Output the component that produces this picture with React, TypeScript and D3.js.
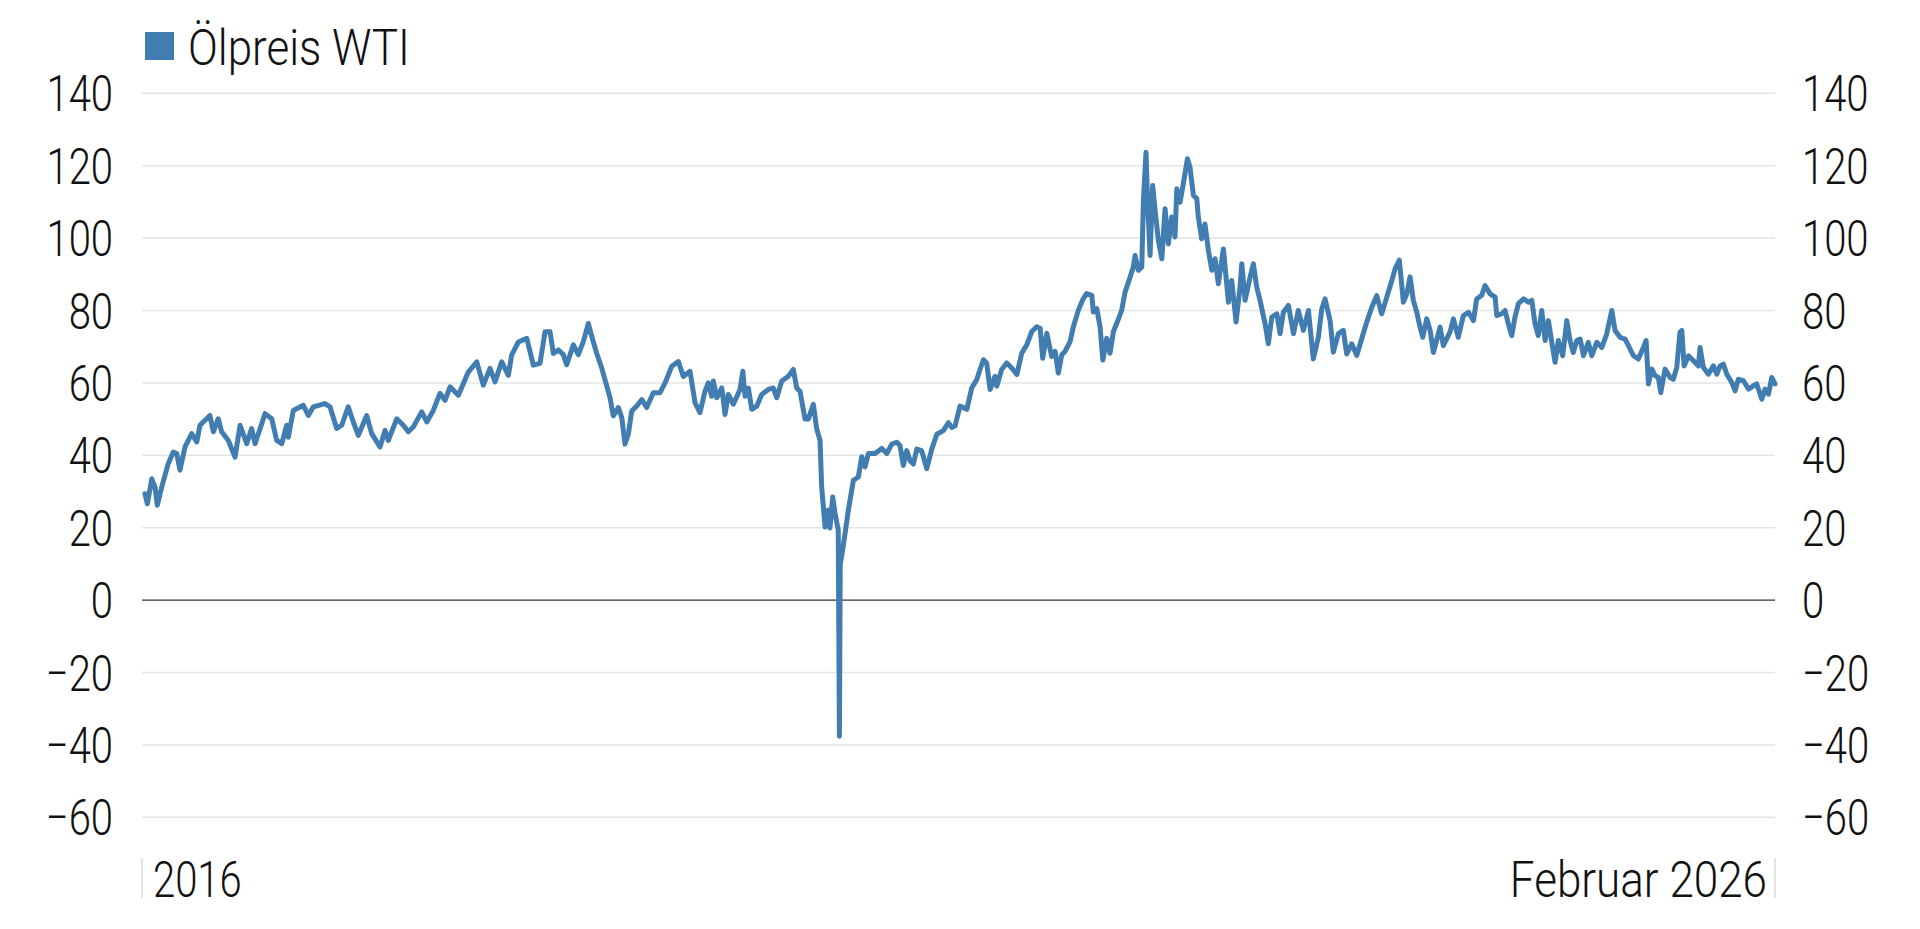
import React from "react";
import * as d3 from "d3";

// Decimal-year timestamps and WTI prices (USD/barrel)
const times: number[] = [
  2016.038, 2016.053, 2016.08, 2016.1, 2016.114, 2016.141, 2016.181, 2016.212, 2016.233, 2016.253,
  2016.284, 2016.325, 2016.356, 2016.376, 2016.407, 2016.437, 2016.458, 2016.488, 2016.509, 2016.55,
  2016.591, 2016.622, 2016.663, 2016.693, 2016.714, 2016.775, 2016.816, 2016.847, 2016.878, 2016.908,
  2016.918, 2016.949, 2017.01, 2017.041, 2017.072, 2017.143, 2017.174, 2017.215, 2017.246, 2017.286,
  2017.317, 2017.348, 2017.399, 2017.43, 2017.481, 2017.512, 2017.532, 2017.584, 2017.624, 2017.655,
  2017.685, 2017.737, 2017.768, 2017.808, 2017.849, 2017.88, 2017.911, 2017.962, 2018.023, 2018.075,
  2018.115, 2018.156, 2018.187, 2018.228, 2018.269, 2018.289, 2018.33, 2018.382, 2018.422, 2018.463,
  2018.494, 2018.525, 2018.545, 2018.576, 2018.606, 2018.627, 2018.668, 2018.698, 2018.729, 2018.76,
  2018.781, 2018.811, 2018.842, 2018.873, 2018.893, 2018.913, 2018.944, 2018.965, 2018.985, 2019.005,
  2019.026, 2019.057, 2019.088, 2019.118, 2019.159, 2019.2, 2019.231, 2019.272, 2019.312, 2019.343,
  2019.384, 2019.415, 2019.445, 2019.476, 2019.496, 2019.517, 2019.527, 2019.548, 2019.579, 2019.599,
  2019.619, 2019.65, 2019.691, 2019.708, 2019.722, 2019.742, 2019.763, 2019.794, 2019.824, 2019.865,
  2019.895, 2019.916, 2019.947, 2019.987, 2020.018, 2020.039, 2020.059, 2020.09, 2020.11, 2020.141,
  2020.162, 2020.182, 2020.192, 2020.213, 2020.233, 2020.243, 2020.26, 2020.274, 2020.294, 2020.301,
  2020.306, 2020.318, 2020.336, 2020.356, 2020.387, 2020.417, 2020.438, 2020.458, 2020.479, 2020.52,
  2020.561, 2020.592, 2020.622, 2020.653, 2020.673, 2020.693, 2020.714, 2020.735, 2020.755, 2020.776,
  2020.806, 2020.837, 2020.868, 2020.899, 2020.939, 2020.97, 2020.991, 2021.011, 2021.041, 2021.083,
  2021.113, 2021.144, 2021.164, 2021.185, 2021.205, 2021.226, 2021.256, 2021.267, 2021.297, 2021.328,
  2021.359, 2021.39, 2021.42, 2021.451, 2021.482, 2021.512, 2021.533, 2021.549, 2021.574, 2021.604,
  2021.625, 2021.645, 2021.666, 2021.686, 2021.717, 2021.737, 2021.768, 2021.798, 2021.819, 2021.85,
  2021.86, 2021.881, 2021.901, 2021.918, 2021.942, 2021.962, 2021.983, 2022.003, 2022.034, 2022.054,
  2022.085, 2022.105, 2022.116, 2022.136, 2022.157, 2022.167, 2022.183, 2022.194, 2022.208, 2022.224,
  2022.239, 2022.259, 2022.28, 2022.3, 2022.32, 2022.341, 2022.361, 2022.372, 2022.392, 2022.412,
  2022.437, 2022.453, 2022.474, 2022.495, 2022.504, 2022.525, 2022.545, 2022.566, 2022.587, 2022.607,
  2022.627, 2022.658, 2022.689, 2022.709, 2022.736, 2022.76, 2022.771, 2022.791, 2022.822, 2022.842,
  2022.863, 2022.883, 2022.914, 2022.934, 2022.955, 2022.986, 2023.006, 2023.026, 2023.057, 2023.088,
  2023.118, 2023.149, 2023.18, 2023.21, 2023.241, 2023.262, 2023.282, 2023.313, 2023.333, 2023.364,
  2023.394, 2023.415, 2023.446, 2023.477, 2023.507, 2023.538, 2023.569, 2023.599, 2023.63, 2023.661,
  2023.692, 2023.712, 2023.738, 2023.763, 2023.784, 2023.804, 2023.824, 2023.845, 2023.865, 2023.882,
  2023.906, 2023.927, 2023.947, 2023.988, 2024.008, 2024.049, 2024.07, 2024.1, 2024.131, 2024.162,
  2024.193, 2024.213, 2024.244, 2024.264, 2024.295, 2024.326, 2024.336, 2024.367, 2024.387, 2024.407,
  2024.428, 2024.448, 2024.469, 2024.5, 2024.53, 2024.551, 2024.571, 2024.591, 2024.612, 2024.633,
  2024.653, 2024.674, 2024.694, 2024.714, 2024.741, 2024.766, 2024.786, 2024.806, 2024.827, 2024.848,
  2024.868, 2024.898, 2024.919, 2024.95, 2024.981, 2025.011, 2025.042, 2025.062, 2025.093, 2025.124,
  2025.144, 2025.175, 2025.205, 2025.236, 2025.253, 2025.267, 2025.288, 2025.308, 2025.328, 2025.343,
  2025.369, 2025.4, 2025.42, 2025.441, 2025.461, 2025.472, 2025.486, 2025.513, 2025.543, 2025.574,
  2025.584, 2025.604, 2025.635, 2025.666, 2025.687, 2025.707, 2025.727, 2025.748, 2025.779, 2025.799,
  2025.819, 2025.85, 2025.881, 2025.911, 2025.932, 2025.963, 2025.983, 2026.004, 2026.024, 2026.044,
];

const prices: number[] = [
  29.4, 26.6, 33.5, 31.2, 26.2, 31.2, 37.7, 40.9, 40.5, 35.9,
  42.3, 46, 43.7, 48.3, 49.7, 51, 46.5, 50.1, 46.5, 44.1,
  39.5, 48.3, 43.2, 47.4, 43.2, 51.5, 50.1, 44.1, 43.2, 48.3,
  45, 52.4, 53.8, 51, 53.4, 54.3, 53.4, 47.4, 48.3, 53.4,
  49.2, 45.5, 51, 46, 42.3, 46.9, 44.1, 50.1, 48.3, 46.5,
  47.8, 52, 49.2, 52.4, 57.1, 55.2, 58.9, 56.6, 63, 65.8,
  59.4, 64, 60.3, 65.8, 62.1, 67.7, 71.3, 72.3, 64.9, 65.4,
  74.1, 74.1, 68.1, 69.1, 67.8, 65, 70.5, 67.8, 71.4, 76.4,
  72.8, 68.2, 64.1, 59.1, 55.9, 50.9, 53.2, 50.4, 43.1, 45.8,
  52.2, 53.6, 55.4, 53.2, 57.3, 57.3, 60, 64.6, 65.9, 61.8,
  63.2, 54.5, 51.8, 57.7, 60, 56.3, 60.5, 55.9, 58.6, 51.3,
  56.8, 54.1, 58.2, 63.2, 56.3, 58.6, 52.7, 53.6, 56.8, 58.2,
  58.6, 55.9, 60.5, 61.8, 63.7, 58.6, 57.7, 50, 50, 54.1,
  47.2, 44.2, 31.3, 20.2, 24.9, 19.9, 28.5, 24, 19.3, -37.6,
  10, 13, 18.5, 24.9, 33.1, 34, 39.6, 36.8, 40.5, 40.5,
  41.9, 40.5, 43.1, 43.6, 42.7, 37.2, 41.3, 38.5, 37.6, 41.7,
  41.3, 36.3, 41.7, 45.8, 46.8, 49, 47.7, 48.1, 53.6, 52.7,
  58.6, 60.9, 63.7, 66.4, 65.5, 58.2, 61.8, 59.1, 63.7, 65.5,
  64.1, 62.3, 68.2, 70.5, 74.2, 75.5, 75.1, 66.8, 73.7, 67.3,
  68.7, 62.7, 67.8, 68.7, 71.4, 75.5, 80.1, 83.3, 84.7, 84.2,
  79.6, 80.5, 75.5, 66.3, 72.3, 68.2, 74.2, 76.4, 80.1, 85,
  89.2, 92, 95.2, 91.1, 92, 110.4, 123.7, 108.6, 95.2, 114.5,
  107.6, 99.3, 94.3, 108.1, 98.4, 105.8, 100.3, 113.6, 109.9, 115,
  121.9, 119.6, 111.8, 110.9, 105.8, 99.8, 103.9, 96.6, 91.1, 94.3,
  87.4, 97, 82.3, 88.3, 76.8, 86.4, 92.9, 82.8, 89.2, 92.9,
  86.4, 82.8, 76.3, 70.8, 78.2, 79.1, 73.6, 79.5, 81.4, 73.6,
  80, 74.5, 80, 66.6, 72.6, 80.5, 83.2, 77.2, 68.5, 73.6,
  74.5, 68, 70.8, 67.6, 72.2, 76.8, 80.9, 84.1, 79.1, 83.7,
  88.3, 91.5, 93.9, 82.3, 84.6, 89.3, 82.8, 79.5, 75.4, 72.6,
  77.7, 74.5, 68.4, 75.4, 70.3, 74, 77.7, 72.6, 78.6, 79.5,
  77.2, 83.2, 84.2, 86.9, 84.6, 83.7, 78.6, 79.1, 80, 76.3,
  73.1, 78.2, 81.9, 83.2, 82.3, 82.8, 76.3, 73.1, 80, 71.7,
  77.2, 71.2, 65.7, 71.7, 67.5, 77.2, 71.7, 68.4, 71.7, 72.1,
  67.5, 71.2, 67.5, 71.2, 69.8, 73.5, 80, 74.5, 72.6, 72.1,
  70.3, 67.5, 66.6, 69.8, 71.7, 59.7, 63.8, 62, 61.5, 57.3,
  63.8, 61.5, 61, 64.3, 74, 74.5, 64.7, 67.5, 66.1, 64.7,
  69.8, 64.3, 62.4, 64.7, 62.4, 64.7, 65.2, 62.4, 60.1, 57.8,
  61, 60.6, 58.3, 59.2, 59.7, 55.5, 58.3, 56.9, 61.5, 59.7,
];

const yTicks: number[] = [-60, -40, -20, 0, 20, 40, 60, 80, 100, 120, 140];
const xDomain: number[] = [2016.02, 2026.044];
const xLabels: string[] = ["2016", "Februar 2026"];
const seriesName = "Ölpreis WTI";

const W = 1920;
const H = 929;
const LEFT = 142;
const RIGHT = 1775;
const FONT = "Roboto, 'Noto Sans', sans-serif";
const SX_NUM = 0.8;
const SX_WORD = 0.88;
const COLOR = "#417db1";

export default function App() {
  const x = d3.scaleLinear().domain(xDomain).range([LEFT, RIGHT]);
  const y = d3.scaleLinear().domain([-60, 140]).range([817.3, 93.3]);
  const data = times.map((t, i) => ({ t, v: prices[i] }));
  const line = d3
    .line<{ t: number; v: number }>()
    .x((d) => x(d.t))
    .y((d) => y(d.v));

  const txt = (
    s: string,
    tx: number,
    ty: number,
    anchor: "start" | "end",
    sx: number,
    key?: string
  ) => (
    <text
      key={key}
      transform={`translate(${tx},${ty}) scale(${sx},1)`}
      textAnchor={anchor}
      fontFamily={FONT}
      fontWeight={300}
      fontSize={50}
      fill="#111"
    >
      {s}
    </text>
  );

  const fmt = (t: number) => (t < 0 ? "−" + Math.abs(t) : String(t));

  return (
    <svg
      width={W}
      height={H}
      style={{ position: "absolute", left: 0, top: 0, background: "#fff" }}
    >
      {yTicks.map((t) => (
        <line
          key={"g" + t}
          x1={LEFT}
          x2={RIGHT}
          y1={y(t)}
          y2={y(t)}
          stroke={t === 0 ? "#333" : "#e5e5e5"}
          strokeWidth={t === 0 ? 1.3 : 1.5}
        />
      ))}
      {yTicks.map((t) => txt(fmt(t), 113, y(t) + 18, "end", SX_NUM, "l" + t))}
      {yTicks.map((t) => txt(fmt(t), 1802, y(t) + 18, "start", SX_NUM, "r" + t))}
      <path
        d={line(data) || ""}
        fill="none"
        stroke={COLOR}
        strokeWidth={5}
        strokeLinejoin="round"
        strokeLinecap="round"
      />
      <line x1={x(xDomain[0])} x2={x(xDomain[0])} y1={858} y2={898} stroke="#d0d0d0" strokeWidth={1.2} />
      <line x1={x(xDomain[1])} x2={x(xDomain[1])} y1={858} y2={898} stroke="#d0d0d0" strokeWidth={1.2} />
      {txt(xLabels[0], 153, 897, "start", SX_NUM)}
      {txt(xLabels[1], 1767, 897, "end", SX_WORD)}
      <rect x={145} y={32} width={29} height={28} fill={COLOR} />
      {txt(seriesName, 188, 65, "start", SX_WORD)}
    </svg>
  );
}
